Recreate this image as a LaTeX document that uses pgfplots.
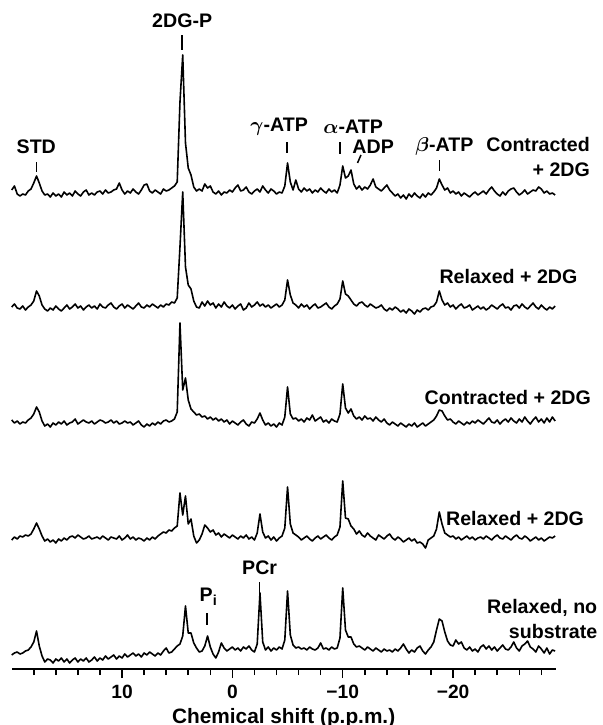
\documentclass[border=0pt]{standalone}
\usepackage{fontspec}
\setmainfont{Liberation Sans}
\usepackage{pgfplots}
\usepackage{pgfplotstable}
\pgfplotsset{compat=1.18}
\newcommand\lbl{\fontsize{9.8}{12.2}\selectfont\bfseries\boldmath}

% chemical shift (ppm) and intensity above each trace's baseline (pixels)
% a: Contracted+2DG (top), b: Relaxed+2DG, c: Contracted+2DG, d: Relaxed+2DG, e: Relaxed, no substrate
\pgfplotstableread{
x a b c d e
20 2 0 2 -2 -5
19.75 6 3 -1 1 -3
19.5 -2 -1 1 -1 -2
19.25 -4 -2 -2 2 -4
19 -2 1 0 1 -3
18.75 -3 -3 -1 3 -1
18.5 1 0 2 2 0
18.25 3 2 4 4 3
18 9 6 8 9 8
17.75 16 16 15 15 19
17.5 9 11 10 9 4
17.25 1 2 1 2 -6
17 -3 -2 -4 -3 -12
16.75 -2 -4 -2 -1 -9
16.5 -5 -1 -5 -4 -10
16.25 -1 -3 -1 -2 -13
16 -4 1 -3 -5 -9
15.75 -2 -2 0 -1 -11
15.5 -5 -4 -2 -3 -8
15.25 0 -1 1 0 -12
15 -3 2 -3 -2 -9
14.75 -1 -2 -1 1 -13
14.5 -4 0 0 2 -10
14.25 1 3 3 0 -8
14 -2 -1 -2 3 -12
13.75 -4 1 0 1 -9
13.5 0 -3 2 -1 -11
13.25 2 0 0 0 -8
13 -3 2 -1 2 -12
12.75 -1 -1 1 -1 -10
12.5 -3 1 -2 0 -7
12.25 0 -2 0 1 -11
12 1 3 2 -1 -8
11.75 -2 0 1 2 -10
11.5 2 -1 -1 0 -6
11.25 -1 2 0 -2 -9
11 0 4 2 1 -7
10.75 2 0 -1 0 -5
10.5 3 -2 1 -1 -9
10.25 9 1 -2 2 -6
10 2 3 -1 -2 -8
9.75 -2 -1 1 0 -4
9.5 1 2 -1 3 -7
9.25 -1 0 0 -1 -5
9 3 -2 -3 1 -3
8.75 0 1 -1 -2 -6
8.5 -2 4 1 0 -4
8.25 2 0 -3 -1 -7
8 7 -1 -5 -3 -3
7.75 8 2 -2 0 -5
7.5 1 0 -4 -2 -2
7.25 -1 3 -1 1 -4
7 2 1 -3 -1 -6
6.75 0 -1 0 2 -3
6.5 -2 2 -2 4 -5
6.25 3 0 1 6 -1
6 1 3 2 5 2
5.75 2 2 0 8 -3
5.5 4 5 1 7 -2
5.25 6 4 3 10 1
5 10 9 10 12 4
4.75 90 60 99 45 6
4.5 137 115 32 23 14
4.25 49 40 44 42 44
4 24 22 22 14 17
3.75 17 18 13 19 17
3.5 5 6 10 2 7
3.25 1 0 7 -5 2
3 3 -1 8 -2 -2
2.75 1 5 5 4 -1
2.5 8 1 6 13 4
2.25 4 6 3 10 14
2 6 2 5 6 3
1.75 0 4 2 8 -4
1.5 -2 -1 4 3 -8
1.25 1 3 1 5 -2
1 -3 0 3 1 7
0.75 0 5 0 4 2
0.5 -1 1 2 2 -1
0.25 2 -1 -2 0 1
0 0 2 1 3 3
-0.25 4 -2 -1 1 0
-0.5 7 1 -3 -1 2
-0.75 1 3 0 2 -1
-1 2 -3 2 0 3
-1.25 5 -1 -2 3 1
-1.5 0 4 -4 -1 4
-1.75 -2 0 0 1 0
-2 1 2 -1 -2 -2
-2.25 3 5 3 5 6
-2.5 0 1 9 24 57
-2.75 6 3 2 6 8
-3 2 0 -3 0 0
-3.25 -1 2 -1 2 3
-3.5 3 -1 -4 -2 -1
-3.75 1 1 -2 1 2
-4 -2 3 -5 -3 0
-4.25 0 0 -1 0 3
-4.5 -1 2 -3 2 1
-4.75 6 7 5 10 10
-5 29 27 35 51 59
-5.25 10 12 8 14 15
-5.5 2 4 3 5 5
-5.75 12 2 4 3 2
-6 3 -1 1 1 3
-6.25 0 3 3 -2 1
-6.5 4 0 0 0 2
-6.75 1 2 4 2 0
-7 3 -2 2 -1 3
-7.25 -1 1 7 -3 1
-7.5 2 3 1 0 0
-7.75 0 -1 3 2 2
-8 4 0 5 -1 7
-8.25 1 2 0 1 1
-8.5 -1 4 2 3 2
-8.75 3 0 -1 0 0
-9 0 -2 3 -2 3
-9.25 2 1 1 1 1
-9.5 -1 3 0 3 2
-9.75 7 8 8 11 12
-10 26 26 38 57 62
-10.25 14 13 14 20 20
-10.5 16 11 9 19 13
-10.75 22 7 13 12 13
-11 8 3 6 9 6
-11.25 3 1 3 4 3
-11.5 6 4 5 7 4
-11.75 2 5 2 3 2
-12 5 2 6 1 0
-12.25 3 0 3 5 3
-12.5 7 3 4 2 1
-12.75 13 1 1 0 -1
-13 5 -1 5 -2 2
-13.25 3 0 2 3 0
-13.5 1 2 0 1 -2
-13.75 4 -2 3 -1 1
-14 7 -4 -1 2 -1
-14.25 2 -1 -3 4 0
-14.5 -1 -3 0 0 -2
-14.75 -4 0 -2 -2 1
-15 -2 -2 -4 1 -1
-15.25 -6 -5 -1 -1 2
-15.5 -3 -3 -3 -4 6
-15.75 -7 -6 -5 -2 1
-16 -2 -2 -2 0 -3
-16.25 -5 -4 -4 -3 0
-16.5 -1 -7 -1 -1 -2
-16.75 -4 -3 -5 -5 2
-17 -6 -5 -3 -4 4
-17.25 -2 -2 -1 -6 -1
-17.5 -5 -1 -4 -10 -4
-17.75 -1 -3 -2 -2 0
-18 -3 0 0 0 3
-18.25 0 1 2 2 8
-18.5 4 5 6 9 20
-18.75 13 16 12 26 31
-19 7 7 11 14 29
-19.25 2 2 6 5 18
-19.5 4 4 2 3 9
-19.75 -1 0 3 1 5
-20 1 2 0 2 4
-20.25 -2 -2 -2 -1 10
-20.5 0 1 1 1 6
-20.75 -4 3 -1 -2 8
-21 -1 -1 -3 0 2
-21.25 -3 0 0 2 0
-21.5 -5 2 -2 -1 3
-21.75 -2 -3 1 1 -1
-22 0 -1 -1 -2 1
-22.25 -3 1 2 0 -2
-22.5 -1 -2 0 1 3
-22.75 1 0 -2 -1 5
-23 -2 -3 1 2 1
-23.25 2 -1 4 0 4
-23.5 5 2 0 -2 0
-23.75 1 0 -1 1 3
-24 -2 -2 2 3 -1
-24.25 -4 1 -2 0 2
-24.5 0 3 1 -1 5
-24.75 -3 -1 3 2 1
-25 1 0 0 0 0
-25.25 3 -3 4 -2 3
-25.5 4 1 1 1 8
-25.75 0 2 -1 3 2
-26 -3 -1 3 0 -1
-26.25 -1 3 0 -1 4
-26.5 2 0 5 2 6
-26.75 -2 -2 1 0 9
-27 0 1 -2 -3 3
-27.25 2 4 2 -1 1
-27.5 1 0 5 1 -2
-27.75 5 -2 0 -2 4
-28 3 2 3 0 1
-28.25 -1 -1 -1 -3 -3
-28.5 1 -3 4 -1 2
-28.75 -2 0 0 1 -4
-29 -1 -2 5 0 0
-29.25 -3 1 1 2 -1
}\spec

\begin{document}
\begin{tikzpicture}
\path[use as bounding box] (-5.85pt,-28pt) rectangle (295.65pt,334.5pt);
\begin{axis}[
  at={(0pt,0pt)}, anchor=south west,
  scale only axis, width=272pt, height=334.5pt,
  xmin=-29.3, xmax=20, x dir=reverse,
  ymin=56, ymax=725,
  axis x line=bottom, axis y line=none,
  axis line style={line width=1.2pt,-},
  xtick={10,0,-10,-20}, xticklabels={10,0,−10,−20},
  minor xtick={18,16,...,-28},
  tick align=outside, major tick length=4.5pt, minor tick length=3pt,
  tick style={line width=0.75pt, black},
  xticklabel style={font=\fontsize{9.6}{11}\selectfont\bfseries},
  xlabel={Chemical shift (p.p.m.)},
  xlabel style={font=\fontsize{10.4}{13}\selectfont\bfseries, yshift=2pt},
  clip=false,
  spec/.style={black, line width=0.8pt, line join=round, mark=none},
]
\addplot[spec] table[x=x, y expr=\thisrow{a}+533] {\spec};
\addplot[spec] table[x=x, y expr=\thisrow{b}+418] {\spec};
\addplot[spec] table[x=x, y expr=\thisrow{c}+303] {\spec};
\addplot[spec] table[x=x, y expr=\thisrow{d}+187] {\spec};
\addplot[spec] table[x=x, y expr=\thisrow{e}+75] {\spec};

% peak annotations
\begin{scope}[every node/.style={font=\lbl, inner sep=0pt}]
\node at (axis cs:4.55,704) {2DG-P};
\node at (axis cs:17.77,578) {STD};
\node at (axis cs:-4.24,598) {$\gamma$-ATP};
\node at (axis cs:-10.95,598) {$\alpha$-ATP};
\node at (axis cs:-12.76,578) {ADP};
\node at (axis cs:-19.21,579) {$\beta$-ATP};
\node at (axis cs:-2.47,157) {PCr};
\node at (axis cs:2.19,128) {P\raisebox{-0.35ex}{\fontsize{7.2}{8}\selectfont i}};
\node[anchor=east, align=right] at (axis cs:-32.43,568) {Contracted\\+ 2DG};
\node[anchor=east] at (axis cs:-31.3,449) {Relaxed + 2DG};
\node[anchor=east] at (axis cs:-32.52,328) {Contracted + 2DG};
\node[anchor=east] at (axis cs:-31.9,207) {Relaxed + 2DG};
\node[anchor=east, align=right] at (axis cs:-33.1,106) {Relaxed, no\\substrate};
\end{scope}
\begin{scope}[line width=0.75pt]
\draw (axis cs:4.55,690) -- (axis cs:4.55,675);
\draw (axis cs:17.77,563) -- (axis cs:17.77,553);
\draw (axis cs:-4.97,583) -- (axis cs:-4.97,572);
\draw (axis cs:-9.77,583) -- (axis cs:-9.77,571);
\draw (axis cs:-11.65,570) -- (axis cs:-11.34,562);
\draw (axis cs:-18.77,565) -- (axis cs:-18.77,554);
\draw (axis cs:-2.47,143) -- (axis cs:-2.47,132);
\draw (axis cs:2.31,112) -- (axis cs:2.31,100);
\end{scope}
\end{axis}
\end{tikzpicture}
\end{document}
